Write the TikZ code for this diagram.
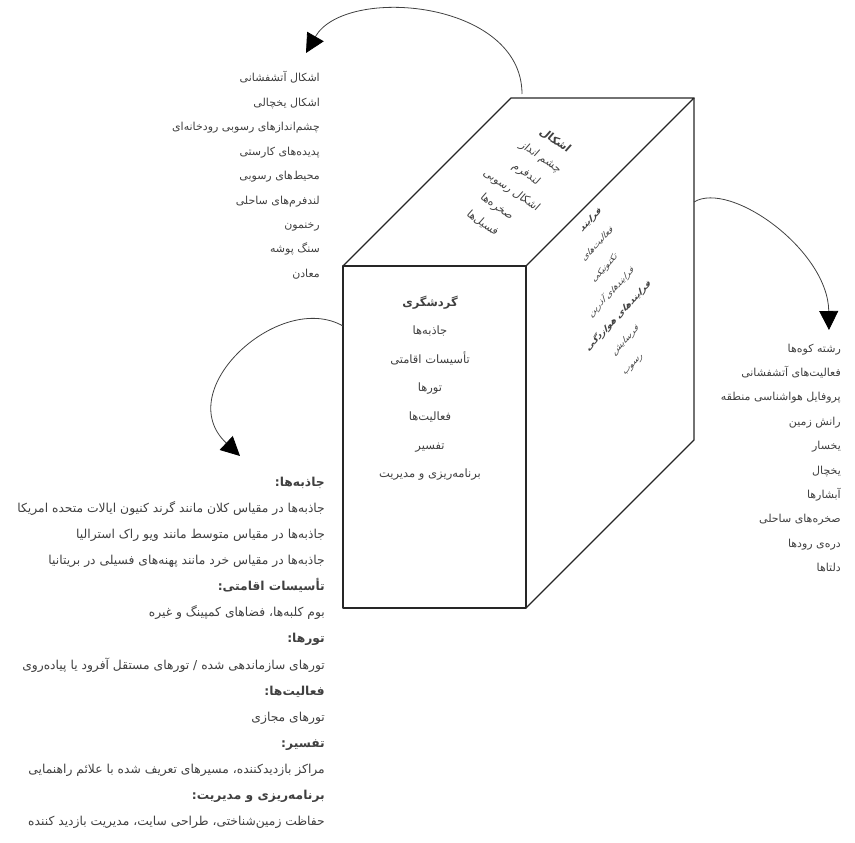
\documentclass[tikz,border=0pt]{standalone}
\usepackage{fontspec}
\newfontfamily\farsi[Script=Arabic]{DejaVu Sans}
\TeXXeTstate=1
\usetikzlibrary{arrows.meta}
\newcommand{\fa}[1]{\beginR #1\endR}
\newcommand{\head}[1]{\color{black}\bfseries #1}

\tikzset{
  cubeline/.style={black!85, line width=1.4pt, line join=round},
  bendarrow/.style={black!75, line width=0.8pt, -{Triangle[length=19pt,width=19pt,black]}},
  listtext/.style={font=\farsi\fontsize{11}{12}\selectfont, text=black!75, inner sep=0pt},
  facetext/.style={font=\farsi\fontsize{11.5}{12}\selectfont, text=black!75, inner sep=0pt},
}

\begin{document}
\begin{tikzpicture}[x=1pt,y=-1pt]
\useasboundingbox (0,0) rectangle (855,843);

% The cube
\coordinate (ftl) at (343,266);
\coordinate (ftr) at (526,266);
\coordinate (fbl) at (343,608);
\coordinate (fbr) at (526,608);
\coordinate (btl) at (511,98);
\coordinate (btr) at (694,98);
\coordinate (bbr) at (694,440);
\draw[cubeline] (ftl) rectangle (fbr);
\draw[cubeline] (ftl) -- (btl) -- (btr) -- (ftr);
\draw[cubeline] (btr) -- (bbr) -- (fbr);

% front face
\foreach \t [count=\i] in {{\head{گردشگری}}, جاذبه‌ها, تأسیسات اقامتی, تورها, فعالیت‌ها, تفسیر, برنامه‌ریزی و مدیریت}{
  \node[facetext, anchor=base] (front\i) at (430, 306+28.6*\i-28.6) {\fa{\t}};
}

% top face
\node[font=\farsi\fontsize{11}{22}\selectfont, text=black!75, align=center, inner sep=0pt,
  cm={0.82,-0.57,0.66,0.75,(0,0)}] (topface) at (519,182)
  {\fa{\head{اشکال}}\\ \fa{چشم انداز}\\ \fa{لندفرم}\\ \fa{اشکال رسوبی}\\ \fa{صخره‌ها}\\ \fa{فسیل‌ها}};

% right face
\node[font=\farsi\fontsize{9.5}{25}\selectfont, text=black!75, align=center, inner sep=0pt,
  cm={0.68,0.73,-0.28,0.96,(0,0)}] (sideface) at (612,292)
  {\fa{\head{فرایند}}\\ \fa{فعالیت‌های}\\ \fa{تکتونیکی}\\ \fa{فرایندهای آذرین}\\ \fa{\head{فرایندهای هوازدگی}}\\ \fa{فرسایش}\\ \fa{رسوب}};

% lists
\foreach \t [count=\i] in {اشکال آتشفشانی, اشکال یخچالی, چشم‌اندازهای رسوبی رودخانه‌ای, پدیده‌های کارستی, محیط‌های رسوبی, لندفرم‌های ساحلی, رخنمون, سنگ پوشه, معادن}{
  \node[listtext, anchor=base east] (shape\i) at (320, 82+24.4*\i-24.4) {\fa{\t}};
}
\foreach \t [count=\i] in {رشته کوه‌ها, فعالیت‌های آتشفشانی, پروفایل هواشناسی منطقه, رانش زمین, یخسار, یخچال, آبشارها, صخره‌های ساحلی, دره‌ی رودها, دلتاها}{
  \node[listtext, anchor=base east] (proc\i) at (841, 352+24.4*\i-24.4) {\fa{\t}};
}
\foreach \t [count=\i] in {{\head{جاذبه‌ها:}}, جاذبه‌ها در مقیاس کلان مانند گرند کنیون ایالات متحده امریکا, جاذبه‌ها در مقیاس متوسط مانند ویو راک استرالیا, جاذبه‌ها در مقیاس خرد مانند پهنه‌های فسیلی در بریتانیا, {\head{تأسیسات اقامتی:}}, بوم کلبه‌ها، فضاهای کمپینگ و غیره, {\head{تورها:}}, تورهای سازماندهی شده / تورهای مستقل آفرود یا پیاده‌روی, {\head{فعالیت‌ها:}}, تورهای مجازی, {\head{تفسیر:}}, مراکز بازدیدکننده، مسیرهای تعریف شده با علائم راهنمایی, {\head{برنامه‌ریزی و مدیریت:}}, حفاظت زمین‌شناختی، طراحی سایت، مدیریت بازدید کننده}{
  \node[listtext, font=\farsi\fontsize{12.3}{13}\selectfont, anchor=base east] (tour\i) at (325, 486+26.15*\i-26.15) {\fa{\t}};
}

% arrows
\coordinate (topout) at (522,94);
\coordinate (topin) at (306,53);
\coordinate (sideout) at (694,202);
\coordinate (sidein) at (829,330);
\coordinate (frontout) at (343,326);
\coordinate (frontin) at (240,456);
\draw[bendarrow] (topout) .. controls (522,0) and (345,-15) .. (topin);
\draw[bendarrow] (sideout) .. controls (730,180) and (828,250) .. (sidein);
\draw[bendarrow] (frontout) .. controls (280,290) and (170,390) .. (frontin);

\end{tikzpicture}
\end{document}
